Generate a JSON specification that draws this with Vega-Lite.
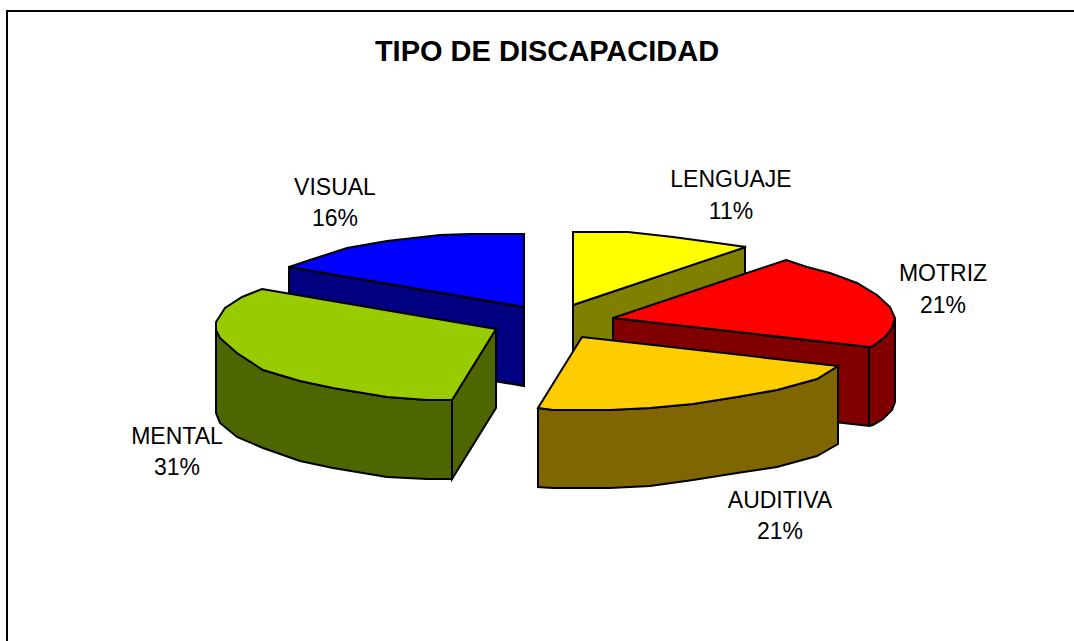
{
  "$schema": "https://vega.github.io/schema/vega-lite/v6.json",
  "width": 1068,
  "height": 630,
  "padding": {"left": 6, "top": 11, "right": 0, "bottom": 0},
  "autosize": "none",
  "background": "white",
  "view": {"stroke": null},
  "title": {"text": "TIPO DE DISCAPACIDAD", "anchor": "middle", "offset": -60, "dx": 7, "font": "Liberation Sans", "fontSize": 29, "fontWeight": "bold", "color": "black"},
  "data": {"values": [
    {"tipo": "LENGUAJE", "pct": 11, "etiqueta": "LENGUAJE\n11%"},
    {"tipo": "VISUAL", "pct": 16, "etiqueta": "VISUAL\n16%"},
    {"tipo": "MOTRIZ", "pct": 21, "etiqueta": "MOTRIZ\n21%"},
    {"tipo": "AUDITIVA", "pct": 21, "etiqueta": "AUDITIVA\n21%"},
    {"tipo": "MENTAL", "pct": 31, "etiqueta": "MENTAL\n31%"}
  ]},
  "resolve": {"scale": {"shape": "independent", "fill": "independent"}},
  "layer": [
    {
      "data": {"values": [{"marco": "borde"}]},
      "mark": {"type": "point", "shape": "M-533 320L-533 -315L540 -315", "size": 4, "filled": false, "stroke": "black", "strokeWidth": 2, "opacity": 1},
      "encoding": {}
    },
    {
      "mark": {"type": "point", "size": 4, "filled": true, "stroke": "black", "strokeWidth": 2, "opacity": 1},
      "encoding": {
        "shape": {"field": "tipo", "type": "nominal", "legend": null, "scale": {
          "domain": ["LENGUAJE", "VISUAL", "MOTRIZ", "AUDITIVA", "MENTAL"],
          "range": [
            "M33 -21L205 -79L205 0L33 58Z",
            "M-251 -59L-16 -19L-16 60L-251 20Z",
            "M73 -8L329 21L329 100L73 71ZM329 21L333 20L345 11L352 2L355 -8L355 76L352 84L343 93L333 99L329 100Z",
            "M-2 82L-2 161L13 162L70 162L110 160L153 154L197 147L237 141L277 130L298 118L298 40L277 53L237 64L197 71L153 78L110 82L70 84L13 84Z",
            "M-324 4L-324 87L-320 97L-303 111L-277 122L-240 135L-207 142L-153 151L-113 153L-88 153L-88 74L-113 74L-153 71L-207 62L-240 55L-277 44L-303 27L-320 12ZM-88 74L-44 3L-44 82L-88 153Z"
          ]}},
        "fill": {"field": "tipo", "type": "nominal", "legend": null, "scale": {
          "domain": ["LENGUAJE", "VISUAL", "MOTRIZ", "AUDITIVA", "MENTAL"],
          "range": ["#808000", "#000080", "#800000", "#806600", "#4D6600"]}}
      }
    },
    {
      "mark": {"type": "point", "size": 4, "filled": true, "stroke": "black", "strokeWidth": 2, "opacity": 1},
      "encoding": {
        "shape": {"field": "tipo", "type": "nominal", "legend": null, "scale": {
          "domain": ["LENGUAJE", "VISUAL", "MOTRIZ", "AUDITIVA", "MENTAL"],
          "range": [
            "M33 -94L88 -94L133 -89L170 -84L206 -79L33 -21Z",
            "M-251 -59L-227 -67L-193 -78L-153 -85L-100 -91L-70 -92L-16 -92L-16 -19Z",
            "M246 -66L267 -59L290 -53L317 -43L337 -31L350 -19L355 -8L352 2L345 11L333 20L329 21L73 -8Z",
            "M42 11L298 40L277 53L237 64L197 71L153 78L110 82L70 84L13 84L-2 82Z",
            "M-278 -37L-44 3L-88 74L-113 74L-153 71L-207 62L-240 55L-277 44L-303 27L-320 12L-324 4L-324 -4L-315 -18L-298 -29Z"
          ]}},
        "fill": {"field": "tipo", "type": "nominal", "legend": null, "scale": {
          "domain": ["LENGUAJE", "VISUAL", "MOTRIZ", "AUDITIVA", "MENTAL"],
          "range": ["#FFFF00", "#0000FF", "#FF0000", "#FFCC00", "#99CC00"]}}
      }
    },
    {
      "transform": [{"filter": "datum.tipo === 'LENGUAJE'"}],
      "mark": {"type": "text", "lineBreak": "\n", "lineHeight": 32, "font": "Liberation Sans", "fontSize": 23, "color": "black", "dx": 191, "dy": -146},
      "encoding": {"text": {"field": "etiqueta"}}
    },
    {
      "transform": [{"filter": "datum.tipo === 'VISUAL'"}],
      "mark": {"type": "text", "lineBreak": "\n", "lineHeight": 31, "font": "Liberation Sans", "fontSize": 23, "color": "black", "dx": -205, "dy": -138},
      "encoding": {"text": {"field": "etiqueta"}}
    },
    {
      "transform": [{"filter": "datum.tipo === 'MOTRIZ'"}],
      "mark": {"type": "text", "lineBreak": "\n", "lineHeight": 32, "font": "Liberation Sans", "fontSize": 23, "color": "black", "dx": 403, "dy": -52},
      "encoding": {"text": {"field": "etiqueta"}}
    },
    {
      "transform": [{"filter": "datum.tipo === 'AUDITIVA'"}],
      "mark": {"type": "text", "lineBreak": "\n", "lineHeight": 31, "font": "Liberation Sans", "fontSize": 23, "color": "black", "dx": 240, "dy": 175},
      "encoding": {"text": {"field": "etiqueta"}}
    },
    {
      "transform": [{"filter": "datum.tipo === 'MENTAL'"}],
      "mark": {"type": "text", "lineBreak": "\n", "lineHeight": 31, "font": "Liberation Sans", "fontSize": 23, "color": "black", "dx": -363, "dy": 111},
      "encoding": {"text": {"field": "etiqueta"}}
    }
  ]
}
